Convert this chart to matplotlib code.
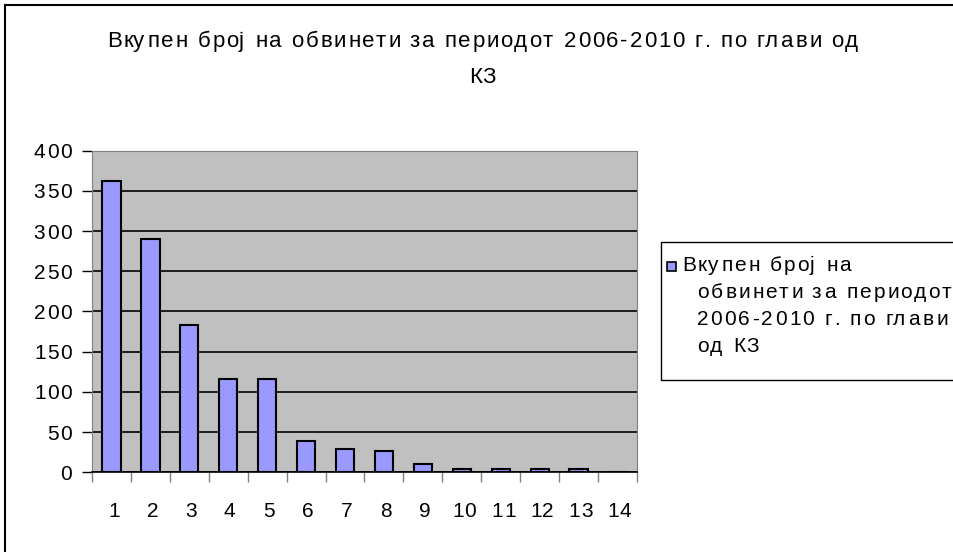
import matplotlib
matplotlib.use("Agg")
import matplotlib.pyplot as plt
from matplotlib.patches import Rectangle
from matplotlib.lines import Line2D
from matplotlib.ft2font import FT2Font
from matplotlib.font_manager import findfont, FontProperties

plt.rcParams['font.family'] = ['Liberation Sans', 'DejaVu Sans']

# data
chapters = list(range(1, 15))
accused = [362, 290, 183, 116, 116, 39, 29, 27, 10, 4, 4, 4, 4, 0]
title_lines = ["Вкупен број на обвинети за периодот 2006-2010 г. по глави од", "КЗ"]
legend_lines = ["Вкупен број на", "обвинети за периодот", "2006-2010 г. по глави", "од КЗ"]
yticks = list(range(0, 401, 50))

W, H = 954, 552
FONT = findfont(FontProperties(family='Liberation Sans'))


def glyphs(s, size):
    f = FT2Font(FONT)
    f.set_size(size, 100)
    out = []
    for c in s:
        g = f.load_char(ord(c))
        out.append((g.linearHoriAdvance / 65536, g.horiBearingX / 64))
    return out


def track_for(s, size, width):
    # extra spacing per gap so that s is about `width` px wide
    adv = [a for a, b in glyphs(s, size)]
    return (width - sum(adv)) / (len(s) - 1)


def spaced_text(x, y, s, size, track, ha='left'):
    # x, y in pixels from top-left, y is the baseline
    g = glyphs(s, size)
    total = sum(a for a, b in g) + track * (len(s) - 1)
    if ha == 'center':
        x -= total / 2
    elif ha == 'right':
        x -= total
    for c, (a, b) in zip(s, g):
        if c != ' ':
            fig.text((x + b) / W, 1 - y / H, c, fontsize=size, ha='left', va='baseline')
        x += a + track


fig = plt.figure(figsize=(W / 100, H / 100), dpi=100)

# outer chart border (only top and left visible)
fig.add_artist(Line2D([5 / W, 1], [1 - 5 / H, 1 - 5 / H], color='black', lw=1.5))
fig.add_artist(Line2D([5 / W, 5 / W], [0, 1 - 5 / H], color='black', lw=1.5))

x0, x1, ytop, ybot = 92, 637, 150.7, 472.3
ax = fig.add_axes([x0 / W, (H - ybot) / H, (x1 - x0) / W, (ybot - ytop) / H])
ax.set_facecolor('#C0C0C0')
ax.bar(chapters, accused, width=0.47, color='#9999FF', edgecolor='black', linewidth=1.5, zorder=3)
ax.set_xlim(0.5, 14.5)
ax.set_ylim(0, 400)
ax.set_yticks(yticks)
ax.set_yticklabels([])
ax.yaxis.grid(True, color='black', linewidth=1.2, zorder=1)
ax.set_axisbelow(True)

# ticks at category boundaries
ax.set_xticks([c - 0.5 for c in chapters] + [chapters[-1] + 0.5])
ax.set_xticklabels([])
ax.tick_params(axis='x', length=7, width=1, color='#808080', direction='out')
ax.tick_params(axis='y', length=7, width=1, color='black')

for s in ['top', 'right', 'left']:
    ax.spines[s].set_color('#808080')
ax.spines['bottom'].set_color('black')
ax.spines['bottom'].set_linewidth(1.2)

# tick labels, letter-spaced like the original
tick_size = 15
tick_track = track_for("400", tick_size, 38)
for v in yticks:
    py = ytop + (ybot - ytop) * (400 - v) / 400
    spaced_text(71, py + 7.5, str(v), tick_size, tick_track, ha='right')
for c in chapters:
    px = x0 + (x1 - x0) * (c - 0.5) / 14
    spaced_text(px + 1, 517, str(c), tick_size, tick_track, ha='center')

# title
title_size = 16
title_track = track_for(title_lines[0], title_size, 752)
spaced_text(481, 47, title_lines[0], title_size, title_track, ha='center')
spaced_text(481, 83, title_lines[1], title_size, title_track, ha='center')

# legend box
fig.add_artist(Rectangle((661 / W, 1 - 380 / H), (960 - 661) / W, (380 - 242) / H,
                         transform=fig.transFigure, facecolor='white', edgecolor='black', lw=1))
fig.add_artist(Rectangle((667 / W, 1 - 271 / H), 9 / W, 9 / H,
                         transform=fig.transFigure, facecolor='#9999FF', edgecolor='black', lw=1.2))
leg_size = 15
leg_track = track_for(legend_lines[1], leg_size, 255)
ys = [271, 298, 325, 352]
xs = [680, 696, 696, 696]
for line, x, y in zip(legend_lines, xs, ys):
    spaced_text(x, y, line, leg_size, leg_track)

fig.savefig('out.png', dpi=100)
